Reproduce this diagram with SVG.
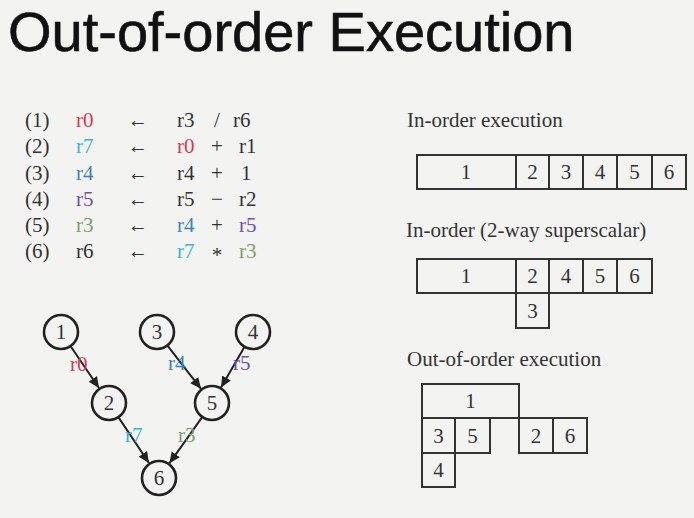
<svg xmlns="http://www.w3.org/2000/svg" width="694" height="518" viewBox="0 0 694 518">
  <style>
    .title { font-family: "Liberation Sans", Arial, Helvetica, sans-serif; font-size: 56px; fill: #111; stroke: #111; stroke-width: 0.6; }
    .serif { font-family: "Liberation Serif", "Times New Roman", Times, "DejaVu Serif", serif; font-size: 21px; fill: #333; }
    .mid { text-anchor: middle; }
    .cell { fill: none; stroke: #333; stroke-width: 2; }
    .node circle { fill: #f3f3f1; stroke: #222; stroke-width: 2.6; }
    .edge { stroke: #222; stroke-width: 2; fill: none; marker-end: url(#arrow); }
    .c-r0 { fill: #d23a55; }
    .c-r7 { fill: #3bb4d6; }
    .c-r4 { fill: #3a84bc; }
    .c-r5 { fill: #6a52a6; }
    .c-r3 { fill: #7f9c6c; }
  </style>
  <defs>
    <marker id="arrow" markerUnits="userSpaceOnUse" markerWidth="12" markerHeight="12" viewBox="0 0 12 12" refX="11" refY="6" orient="auto">
      <path d="M0,1 L11,6 L0,11 Z" fill="#222"/>
    </marker>
  </defs>

  <rect width="694" height="518" fill="#f3f3f1"/>

  <text class="title" x="8" y="51">Out-of-order Execution</text>

  <!-- instruction listing -->
  <g id="listing" class="serif">
    <text x="25" y="127">(1)</text><text x="76" y="127" class="c-r0">r0</text><text x="128" y="127" textLength="20" lengthAdjust="spacingAndGlyphs">←</text><text x="177" y="127">r3</text><text x="217" y="127" class="mid">/</text><text x="233" y="127">r6</text>
    <text x="25" y="153">(2)</text><text x="76" y="153" class="c-r7">r7</text><text x="128" y="153" textLength="20" lengthAdjust="spacingAndGlyphs">←</text><text x="177" y="153" class="c-r0">r0</text><text x="217" y="153" class="mid">+</text><text x="239" y="153">r1</text>
    <text x="25" y="180">(3)</text><text x="76" y="180" class="c-r4">r4</text><text x="128" y="180" textLength="20" lengthAdjust="spacingAndGlyphs">←</text><text x="177" y="180">r4</text><text x="217" y="180" class="mid">+</text><text x="241" y="180">1</text>
    <text x="25" y="206">(4)</text><text x="76" y="206" class="c-r5">r5</text><text x="128" y="206" textLength="20" lengthAdjust="spacingAndGlyphs">←</text><text x="177" y="206">r5</text><text x="217" y="206" class="mid">−</text><text x="239" y="206">r2</text>
    <text x="25" y="232">(5)</text><text x="76" y="232" class="c-r3">r3</text><text x="128" y="232" textLength="20" lengthAdjust="spacingAndGlyphs">←</text><text x="177" y="232" class="c-r4">r4</text><text x="217" y="232" class="mid">+</text><text x="239" y="232" class="c-r5">r5</text>
    <text x="25" y="258">(6)</text><text x="76" y="258">r6</text><text x="128" y="258" textLength="20" lengthAdjust="spacingAndGlyphs">←</text><text x="177" y="258" class="c-r7">r7</text><text x="217" y="262" class="mid">*</text><text x="239" y="258" class="c-r3">r3</text>
  </g>

  <!-- dependency graph: connectors -->
  <g id="connectors">
    <line class="edge" x1="70.8" y1="346.5" x2="99" y2="388"/>
    <line class="edge" x1="167.7" y1="345.8" x2="201" y2="388.8"/>
    <line class="edge" x1="244.3" y1="347.2" x2="221" y2="387.4"/>
    <line class="edge" x1="118.7" y1="417.6" x2="149" y2="463"/>
    <line class="edge" x1="202" y1="417.3" x2="169.4" y2="463.3"/>
    <g class="serif">
      <text x="70" y="371" class="c-r0">r0</text>
      <text x="168" y="370" class="c-r4">r4</text>
      <text x="233" y="370" class="c-r5">r5</text>
      <text x="125" y="442" class="c-r7">r7</text>
      <text x="178" y="442" class="c-r3">r3</text>
    </g>
  </g>

  <!-- dependency graph: nodes -->
  <g id="node-1" class="node"><circle cx="61" cy="332" r="17"/><text class="serif mid" x="61" y="339">1</text></g>
  <g id="node-3" class="node"><circle cx="157" cy="332" r="17"/><text class="serif mid" x="157" y="339">3</text></g>
  <g id="node-4" class="node"><circle cx="253" cy="332" r="17"/><text class="serif mid" x="253" y="339">4</text></g>
  <g id="node-2" class="node"><circle cx="109" cy="403" r="17"/><text class="serif mid" x="109" y="410">2</text></g>
  <g id="node-5" class="node"><circle cx="212" cy="403" r="17"/><text class="serif mid" x="212" y="410">5</text></g>
  <g id="node-6" class="node"><circle cx="159" cy="478" r="17"/><text class="serif mid" x="159" y="485">6</text></g>

  <!-- in-order schedule -->
  <g id="in-order">
    <text class="serif" x="407" y="127">In-order execution</text>
    <rect class="cell" x="417" y="155" width="99" height="34"/><text class="serif mid" x="466" y="179">1</text>
    <rect class="cell" x="516" y="155" width="33" height="34"/><text class="serif mid" x="532.5" y="179">2</text>
    <rect class="cell" x="549" y="155" width="34" height="34"/><text class="serif mid" x="566" y="179">3</text>
    <rect class="cell" x="583" y="155" width="34" height="34"/><text class="serif mid" x="600" y="179">4</text>
    <rect class="cell" x="617" y="155" width="35" height="34"/><text class="serif mid" x="634.5" y="179">5</text>
    <rect class="cell" x="652" y="155" width="34" height="34"/><text class="serif mid" x="669" y="179">6</text>
  </g>

  <!-- in-order 2-way superscalar schedule -->
  <g id="superscalar">
    <text class="serif" x="406" y="237">In-order (2-way superscalar)</text>
    <rect class="cell" x="417" y="259" width="99" height="34"/><text class="serif mid" x="466" y="283">1</text>
    <rect class="cell" x="516" y="259" width="33" height="34"/><text class="serif mid" x="532.5" y="283">2</text>
    <rect class="cell" x="549" y="259" width="34" height="34"/><text class="serif mid" x="566" y="283">4</text>
    <rect class="cell" x="583" y="259" width="34" height="34"/><text class="serif mid" x="600" y="283">5</text>
    <rect class="cell" x="617" y="259" width="35" height="34"/><text class="serif mid" x="634.5" y="283">6</text>
    <rect class="cell" x="516" y="293" width="33" height="35"/><text class="serif mid" x="532.5" y="318">3</text>
  </g>

  <!-- out-of-order schedule -->
  <g id="out-of-order">
    <text class="serif" x="407" y="366">Out-of-order execution</text>
    <rect class="cell" x="422" y="384" width="97" height="34"/><text class="serif mid" x="470.5" y="408">1</text>
    <rect class="cell" x="422" y="418" width="33" height="35"/><text class="serif mid" x="438.5" y="443">3</text>
    <rect class="cell" x="455" y="418" width="35" height="35"/><text class="serif mid" x="472.5" y="443">5</text>
    <rect class="cell" x="519" y="418" width="34" height="35"/><text class="serif mid" x="536" y="443">2</text>
    <rect class="cell" x="553" y="418" width="34" height="35"/><text class="serif mid" x="570" y="443">6</text>
    <rect class="cell" x="422" y="453" width="33" height="34"/><text class="serif mid" x="438.5" y="477">4</text>
  </g>
</svg>
